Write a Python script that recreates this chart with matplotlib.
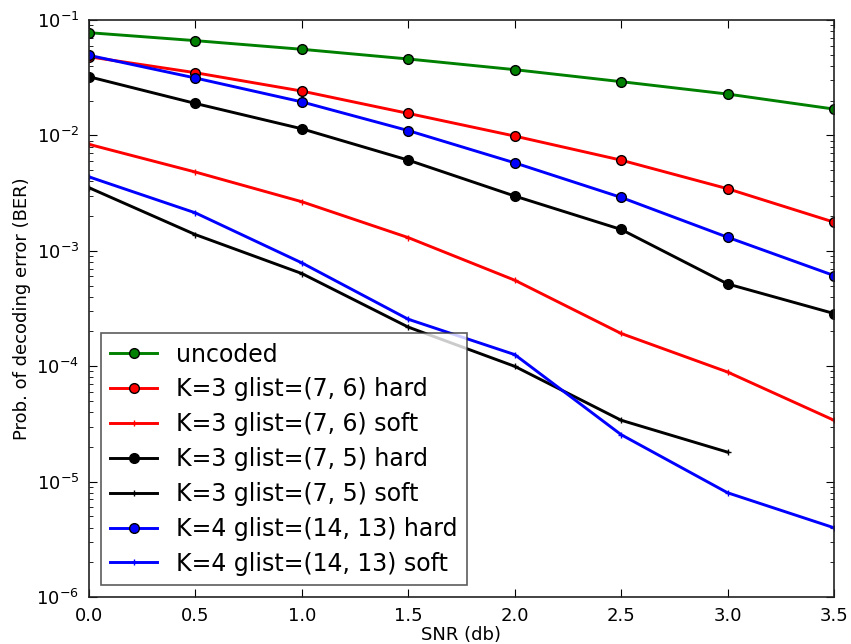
import numpy as np
import matplotlib
matplotlib.use("Agg")
import matplotlib.pyplot as plt

snr = [0.0, 0.5, 1.0, 1.5, 2.0, 2.5, 3.0, 3.5]

ber_uncoded = [0.0776, 0.0662, 0.0557, 0.0459, 0.0371, 0.0292, 0.0228, 0.0169]
ber_k3_76_hard = [0.048, 0.0349, 0.0242, 0.0155, 0.00986, 0.0061, 0.00345, 0.00177]
ber_k3_76_soft = [0.00836, 0.00481, 0.00266, 0.0013, 0.000556, 0.000192, 8.9e-5, 3.4e-5]
ber_k3_75_hard = [0.0322, 0.0189, 0.0114, 0.0061, 0.00298, 0.00153, 0.000516, 0.000286]
ber_k3_75_soft = [0.00352, 0.00138, 0.000635, 0.000218, 9.97e-5, 3.4e-5, 1.8e-5]
ber_k4_hard = [0.0494, 0.0314, 0.0195, 0.011, 0.00578, 0.0029, 0.00131, 0.00061]
ber_k4_soft = [0.00437, 0.00213, 0.000785, 0.000255, 0.000126, 2.55e-5, 8.0e-6, 3.98e-6]

plt.rcParams['mathtext.fontset'] = 'dejavusans'

fig = plt.figure(figsize=(8.51, 6.44), dpi=100)
ax = fig.add_axes([0.1046, 0.073, 0.8754, 0.896])

hard = dict(marker='o', markersize=7, markeredgecolor='black', lw=2.1)
soft = dict(marker='+', markersize=5, lw=2.1)

ax.semilogy(snr, ber_uncoded, color='g', label='uncoded', **hard)
ax.semilogy(snr, ber_k3_76_hard, color='r', label='K=3 glist=(7, 6) hard', **hard)
ax.semilogy(snr, ber_k3_76_soft, color='r', label='K=3 glist=(7, 6) soft', **soft)
ax.semilogy(snr, ber_k3_75_hard, color='k', label='K=3 glist=(7, 5) hard', **hard)
ax.semilogy(snr[:7], ber_k3_75_soft, color='k', label='K=3 glist=(7, 5) soft', **soft)
ax.semilogy(snr, ber_k4_hard, color='b', label='K=4 glist=(14, 13) hard', **hard)
ax.semilogy(snr, ber_k4_soft, color='b', label='K=4 glist=(14, 13) soft', **soft)

ax.set_xlim(0, 3.5)
ax.set_ylim(1e-6, 1e-1)
ax.set_xticks(np.arange(0, 3.51, 0.5))
ax.tick_params(which='both', direction='in', top=True, right=True, labelsize=13, pad=7)
ax.tick_params(which='major', length=6)
ax.tick_params(which='minor', length=3)
for s in ax.spines.values():
    s.set_linewidth(1.2)
    s.set_edgecolor('#222222')

ax.set_xlabel('SNR (db)', fontsize=13, labelpad=1)
ax.set_ylabel('Prob. of decoding error (BER)', fontsize=13)

leg = ax.legend(loc='lower left', numpoints=1, fontsize=17, fancybox=False,
                handlelength=2.0, borderaxespad=0.5, labelspacing=0.46)
leg.get_frame().set_edgecolor('#333333')
leg.get_frame().set_linewidth(1.2)

fig.savefig('out.png', dpi=100)
